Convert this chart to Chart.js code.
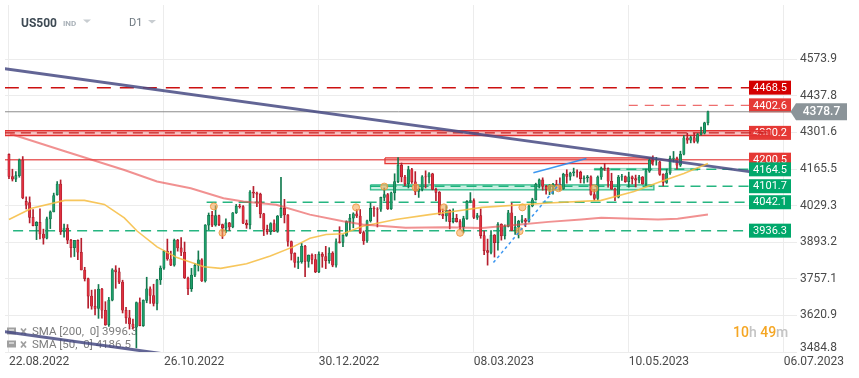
<!DOCTYPE html>
<html>
<head>
<meta charset="utf-8">
<script src="https://cdn.jsdelivr.net/npm/chart.js@4.4.0/dist/chart.umd.min.js"></script>
<style>
  html, body { margin: 0; padding: 0; background: #fff; }
  #wrap { position: relative; width: 859px; height: 378px; }
</style>
</head>
<body>
<div id="wrap"><canvas id="chart" width="859" height="378"></canvas></div>
<script>
// daily candles, 22.08.2022 .. 13.06.2023 (index = bar number)
const opens = [
  4220,4138,4128,4141,4199,4045,4041,3986,3955,3967,
  3924,3908,3980,4006,4070,4110,3932,3946,3901,3873,
  3900,3856,3790,3758,3693,3655,3647,3719,3640,3586,
  3678,3791,3783,3745,3640,3612,3589,3577,3669,3583,
  3677,3720,3695,3666,3753,3797,3859,3831,3808,3901,
  3872,3856,3760,3720,3771,3807,3828,3749,3957,3993,
  3957,3992,3959,3946,3965,3950,4003,4027,4026,3964,
  3958,4080,4076,4072,3999,3941,3933,3963,3934,3991,
  4019,3995,3896,3852,3818,3821,3878,3822,3845,3829,
  3783,3849,3840,3825,3853,3808,3895,3893,3919,3970,
  3983,3999,3991,3929,3898,3973,4019,4017,4016,4060,
  4071,4018,4077,4119,4180,4136,4111,4164,4118,4082,
  4090,4137,4136,4148,4090,4079,3997,3991,4012,3970,
  3982,3970,3951,3981,4045,4048,3986,3992,3918,3862,
  3855,3920,3892,3960,3917,3952,4003,3937,3949,3971,
  3977,3971,4028,4051,4109,4125,4101,4090,4105,4109,
  4108,4092,4146,4138,4151,4155,4154,4130,4133,4137,
  4071,4056,4136,4169,4168,4120,4091,4061,4136,4138,
  4119,4137,4130,4124,4136,4110,4158,4198,4192,4192,
  4146,4116,4151,4205,4206,4180,4221,4282,4273,4283,
  4268,4294,4299,4338
];
const highs = [
  4222,4165,4156,4203,4212,4062,4062,4015,3970,4018,
  3942,3987,4010,4076,4119,4125,3961,3959,3904,3900,
  3902,3908,3800,3760,3715,3717,3736,3722,3672,3688,
  3795,3806,3797,3752,3651,3640,3607,3671,3686,3679,
  3763,3727,3737,3755,3805,3862,3905,3860,3905,3904,
  3911,3894,3764,3796,3814,3861,3832,3959,4002,4008,
  4029,3994,3961,3980,3967,4004,4034,4035,4030,3976,
  4085,4101,4080,4076,4001,3957,3966,3977,3993,4135,
  4053,3996,3898,3854,3838,3889,3882,3846,3850,3848,
  3858,3855,3878,3873,3858,3906,3951,3922,3973,3997,
  4003,4015,4015,3935,3976,4039,4026,4022,4061,4095,
  4075,4080,4148,4208,4188,4142,4176,4168,4156,4095,
  4141,4159,4152,4150,4095,4082,4017,4030,4014,4018,
  3997,3978,3990,4048,4078,4055,4001,4017,3935,3905,
  3937,3922,3966,3962,3958,4012,4039,3990,3975,3993,
  3982,4032,4057,4113,4129,4133,4105,4108,4112,4124,
  4133,4150,4163,4154,4169,4163,4158,4140,4142,4140,
  4090,4140,4173,4186,4170,4150,4095,4142,4146,4140,
  4154,4140,4143,4142,4138,4165,4205,4215,4209,4195,
  4148,4165,4214,4231,4210,4232,4290,4299,4288,4299,
  4298,4322,4340,4381
];
const lows = [
  4130,4121,4119,4135,4055,4017,3965,3954,3903,3906,
  3886,3906,3944,4006,4068,3922,3912,3888,3838,3840,
  3828,3790,3749,3648,3644,3623,3610,3611,3584,3580,
  3675,3722,3739,3630,3591,3570,3570,3500,3582,3580,
  3668,3666,3656,3641,3736,3792,3826,3806,3804,3860,
  3843,3758,3698,3710,3765,3786,3747,3745,3939,3951,
  3953,3955,3907,3929,3937,3947,4000,4020,3962,3945,
  3943,4059,4026,3984,3918,3923,3922,3933,3930,3985,
  3965,3879,3827,3800,3795,3815,3765,3800,3813,3780,
  3780,3800,3795,3815,3802,3800,3890,3877,3915,3937,
  3947,3985,3925,3885,3893,3968,3989,3950,4008,4048,
  4015,4015,4050,4115,4118,4104,4095,4112,4070,4060,
  4084,4095,4113,4088,4048,3995,3981,3971,3943,3965,
  3968,3939,3928,3978,4040,3981,3978,3908,3847,3808,
  3850,3838,3864,3901,3905,3950,3936,3922,3909,3965,
  3951,3968,4025,4050,4095,4087,4072,4070,4072,4102,
  4087,4090,4113,4124,4140,4135,4114,4113,4117,4068,
  4049,4050,4127,4160,4098,4090,4048,4058,4123,4116,
  4098,4110,4099,4114,4109,4105,4153,4180,4180,4142,
  4103,4112,4146,4192,4166,4175,4218,4261,4263,4263,
  4262,4292,4296,4330
];
const closes = [
  4138,4128,4141,4199,4058,4031,3986,3955,3967,3924,
  3908,3980,4006,4067,4110,3932,3946,3901,3873,3900,
  3856,3790,3758,3693,3655,3647,3719,3640,3586,3678,
  3791,3783,3745,3640,3612,3589,3577,3669,3583,3677,
  3720,3695,3666,3753,3797,3859,3831,3808,3901,3872,
  3856,3760,3720,3771,3807,3828,3749,3957,3993,3957,
  3992,3959,3946,3965,3950,4003,4027,4026,3964,3958,
  4080,4076,4072,3999,3941,3933,3963,3934,3991,4019,
  3995,3896,3852,3818,3821,3878,3822,3845,3829,3783,
  3849,3840,3825,3853,3808,3895,3893,3919,3970,3983,
  3999,3991,3929,3898,3973,4019,4017,4016,4060,4071,
  4018,4077,4119,4180,4136,4111,4164,4118,4082,4090,
  4137,4136,4148,4090,4079,3997,3991,4012,3970,3982,
  3970,3951,3981,4045,4048,3986,3992,3918,3862,3855,
  3920,3892,3960,3917,3952,4003,3937,3949,3971,3977,
  3971,4028,4051,4109,4125,4101,4090,4105,4109,4108,
  4092,4146,4138,4151,4155,4154,4130,4133,4137,4071,
  4056,4136,4169,4168,4120,4091,4061,4136,4138,4119,
  4137,4130,4124,4136,4110,4158,4198,4192,4192,4146,
  4116,4151,4205,4206,4180,4221,4282,4273,4283,4268,
  4294,4299,4338,4378.7
];

const xTickIdx = [0, 45, 90, 135, 180, 225];
const xTickLabels = ['22.08.2022', '26.10.2022', '30.12.2022', '08.03.2023', '10.05.2023', '06.07.2023'];
const yTicks = [4573.9, 4437.8, 4301.6, 4165.5, 4029.3, 3893.2, 3757.1, 3620.9, 3484.8];

// moving averages (bar index, value)
const sma200X = [0.3, 16.2, 33.5, 43, 52.8, 62.3, 68.1, 77.6, 87.4, 97, 102.7, 115.2, 126.7, 137.4, 146.9, 156.7, 166.2, 172, 188.5, 194.2, 203];
const sma200Y = [4297, 4232, 4162, 4119, 4094, 4057, 4045, 4033, 3996, 3971, 3959, 3947, 3949, 3946, 3957, 3969, 3978, 3984, 3978, 3981, 3996.3];
const sma50X = [0, 6.6, 16.2, 21.9, 27.7, 33.5, 37.2, 43, 48.8, 56.6, 61.5, 69, 75.9, 82.5, 87.4, 92.1, 97, 102.7, 112.3, 122.1, 131.6, 137.4, 156.7, 172, 181.5, 189.3, 196, 203];
const sma50Y = [3978, 4020, 4049, 4049, 4034, 3984, 3935, 3876, 3836, 3802, 3796, 3813, 3842, 3876, 3908, 3922, 3925, 3953, 3978, 3996, 4012, 4023, 4039, 4049, 4082, 4119, 4149, 4186.5];

// drawn trend lines
const trendX = [-1.2, 215];
const trendY = [4539, 4156];
const channelX = [-1.2, 60];
const channelY = [3560, 3451];
const blueDashX = [140.7, 160];
const blueDashY = [3817.6, 4112.5];
const blueX = [152.3, 167.7];
const blueY = [4152, 4204.7];

// orange touch markers
const markerX = [59.5, 62, 100.8, 109, 118.1, 126.3, 131, 148.3, 149.1, 157.4, 159.6, 170];
const markerY = [4026.6, 3928.2, 4023, 4100.4, 4096.7, 4023, 3928.2, 3934.5, 4023, 4094.1, 4094.1, 4094.1];

// horizontal levels
const levelValues = [4468.5, 4402.6, 4300.2, 4200.5, 4164.5, 4101.7, 4042.1, 3936.3];
const levelStart = [-1.2, 180, -1.2, -1.2, 170, 105, 57.4, 1.2];
const levelEnd = [215, 215, 221, 215, 215, 215, 215, 215];
const lastPrice = 4378.7;

// zones: [x from, x to, low, high]
const zone4300 = [-1.2, 221, 4290, 4308];
const zone4200 = [109.2, 186.6, 4186, 4207];
const zone4100 = [105, 187.3, 4088, 4107];
const zone4164 = [170, 200, 4161, 4168];

const smaLegend = ['SMA [200,  0] 3996.3', 'SMA [50,  0] 4186.5'];

Chart.defaults.font.family = "Roboto, 'Noto Sans', sans-serif";

const up = i => closes[i] >= opens[i];
const pts = (xs, ys) => xs.map((x, i) => ({ x: x, y: ys[i] }));

const GREEN = 'rgba(0,168,107,0.85)';
const levelStyles = [
  { color: '#cc1010', dash: [14, 9], width: 1.5, tag: '#d40000' },
  { color: 'rgba(235,85,85,0.85)', dash: [9, 7], width: 1.3, tag: '#e53935' },
  { color: '#c81e1e', dash: [10, 6], width: 1.2, tag: '#e53935' },
  { color: 'rgba(228,60,60,0.8)', dash: [], width: 1.5, tag: '#e53935' },
  { color: GREEN, dash: [10, 6], width: 1.5, tag: '#00a86b' },
  { color: GREEN, dash: [10, 6], width: 1.5, tag: '#00a86b' },
  { color: GREEN, dash: [10, 6], width: 1.5, tag: '#00a86b' },
  { color: GREEN, dash: [10, 6], width: 1.5, tag: '#00a86b' }
];

function lineSet(data, color, width, dash, order) {
  return {
    type: 'line', data: data, borderColor: color, borderWidth: width,
    borderDash: dash || [], pointRadius: 0, fill: false, tension: 0, order: order
  };
}

function zoneSet(z, stroke, fill, width) {
  return {
    type: 'line',
    data: [{ x: z[0], y: z[3] }, { x: z[1], y: z[3] }, { x: z[1], y: z[2] }, { x: z[0], y: z[2] }, { x: z[0], y: z[3] }],
    borderColor: stroke, backgroundColor: fill, borderWidth: width,
    fill: 'shape', pointRadius: 0, tension: 0, order: 6
  };
}

const datasets = [
  lineSet(pts(sma200X, sma200Y), 'rgba(232,72,72,0.6)', 2, null, 0),
  lineSet(pts(sma50X, sma50Y), 'rgba(246,188,64,0.85)', 1.6, null, 0),
  lineSet(pts(trendX, trendY), 'rgba(70,74,130,0.85)', 3, null, 0),
  lineSet(pts(channelX, channelY), 'rgba(70,74,130,0.85)', 3, null, 0),
  lineSet(pts(blueDashX, blueDashY), 'rgba(40,140,240,0.9)', 1.5, [3, 3], 0),
  lineSet(pts(blueX, blueY), 'rgba(40,140,240,0.9)', 1.5, null, 0),
  {
    type: 'line', showLine: false, data: pts(markerX, markerY), order: 0,
    pointRadius: 3.5, pointBackgroundColor: 'rgba(246,170,90,0.6)',
    pointBorderColor: 'rgba(240,150,60,0.85)', pointBorderWidth: 1
  },
  {
    type: 'bar', order: 2, grouped: false, barThickness: 2.4,
    data: closes.map((c, i) => ({ x: i, y: [opens[i], c] })),
    borderWidth: 0.6, borderSkipped: false,
    backgroundColor: c => up(c.dataIndex) ? '#1f9e6a' : '#e0303f',
    borderColor: c => up(c.dataIndex) ? '#0f6a45' : '#a11a28'
  },
  {
    type: 'bar', order: 3, grouped: false, barThickness: 1,
    data: closes.map((c, i) => ({ x: i, y: [lows[i], highs[i]] })),
    borderWidth: 0,
    backgroundColor: c => up(c.dataIndex) ? '#137a4f' : '#b51f2e'
  },
  lineSet([{ x: -1.2, y: lastPrice }, { x: 227.4, y: lastPrice }], '#8c8c8c', 1, null, 5),
  zoneSet(zone4300, '#e23030', 'rgba(235,80,80,0.32)', 1.5),
  zoneSet(zone4200, '#e53935', 'rgba(240,100,100,0.28)', 1.3),
  zoneSet(zone4100, 'rgba(0,170,110,0.8)', 'rgba(60,200,150,0.28)', 1.3),
  zoneSet(zone4164, 'rgba(0,170,110,0.45)', 'rgba(60,200,150,0.2)', 1)
];

levelValues.forEach((v, k) => {
  const s = levelStyles[k];
  datasets.push(lineSet([{ x: levelStart[k], y: v }, { x: levelEnd[k], y: v }], s.color, s.width, s.dash, 4));
});

const overlay = {
  id: 'overlay',
  beforeDatasetsDraw(chart) {
    const ctx = chart.ctx;
    const y = chart.scales.y;
    ctx.save();
    // level price tags
    ctx.font = '11px Roboto';
    ctx.textAlign = 'center';
    ctx.textBaseline = 'middle';
    levelValues.forEach((v, k) => {
      const py = y.getPixelForValue(v);
      ctx.fillStyle = levelStyles[k].tag;
      ctx.fillRect(749, py - 7, 42, 14);
      ctx.fillStyle = '#fff';
      ctx.fillText(v.toFixed(1), 770, py + 0.5);
    });
    // indicator legend
    ctx.textAlign = 'left';
    smaLegend.forEach((txt, k) => {
      const ly = 331.5 + k * 13;
      ctx.fillStyle = '#a0a0a0';
      ctx.fillRect(7, ly - 4, 9, 7);
      ctx.fillStyle = '#fff';
      ctx.fillRect(9, ly - 2, 5, 1);
      ctx.strokeStyle = '#a0a0a0';
      ctx.lineWidth = 1.8;
      ctx.beginPath();
      ctx.moveTo(21, ly - 3); ctx.lineTo(26, ly + 3);
      ctx.moveTo(26, ly - 3); ctx.lineTo(21, ly + 3);
      ctx.stroke();
      ctx.font = '11.5px Roboto';
      ctx.fillStyle = '#7d7d7d';
      ctx.fillText(txt, 32, ly + 0.5);
    });
    ctx.restore();
  },
  afterDraw(chart) {
    const ctx = chart.ctx;
    const y = chart.scales.y;
    ctx.save();
    ctx.textBaseline = 'middle';
    ctx.textAlign = 'left';
    // header
    ctx.font = 'bold 12px Roboto';
    ctx.fillStyle = '#3e4a54';
    ctx.fillText('US500', 21, 23.5);
    ctx.font = 'bold 8px Roboto';
    ctx.fillStyle = '#a9b1b8';
    ctx.fillText('IND', 63, 23.5);
    ctx.font = '11px Roboto';
    ctx.fillStyle = '#6e7880';
    ctx.fillText('D1', 129, 23.5);
    ctx.fillStyle = '#c8cdd1';
    [[83, 19.5], [148, 20]].forEach(p => {
      ctx.beginPath();
      ctx.moveTo(p[0], p[1]); ctx.lineTo(p[0] + 8, p[1]); ctx.lineTo(p[0] + 4, p[1] + 3.5);
      ctx.closePath(); ctx.fill();
    });
    // bottom axis label kept clear of the date row
    ctx.font = '12px Roboto';
    ctx.fillStyle = '#4a4a4a';
    ctx.fillText('3484.8', 800, 347.7);
    // time left in the candle
    ctx.font = '500 14px Roboto';
    let tx = 733;
    [['10', '#f5a623'], ['h', '#c4c4c4'], [' 49', '#f5a623'], ['m', '#c4c4c4']].forEach(p => {
      ctx.fillStyle = p[1];
      ctx.fillText(p[0], tx, 333.5);
      tx += ctx.measureText(p[0]).width;
    });
    // last price tag
    const py = y.getPixelForValue(lastPrice);
    ctx.fillStyle = '#8b9499';
    ctx.beginPath();
    ctx.moveTo(790.5, py);
    ctx.lineTo(796, py - 8.5);
    ctx.lineTo(847, py - 8.5);
    ctx.lineTo(847, py + 8.5);
    ctx.lineTo(796, py + 8.5);
    ctx.closePath();
    ctx.fill();
    ctx.font = '500 12px Roboto';
    ctx.fillStyle = '#fff';
    ctx.textAlign = 'center';
    ctx.fillText(lastPrice.toFixed(1), 821.5, py + 0.5);
    ctx.restore();
  }
};

new Chart(document.getElementById('chart'), {
  type: 'bar',
  data: { datasets: datasets },
  options: {
    responsive: false,
    animation: false,
    devicePixelRatio: 1,
    layout: { padding: 0 },
    plugins: { legend: { display: false }, tooltip: { enabled: false } },
    scales: {
      x: {
        type: 'linear', min: -1.154, max: 228.86, offset: false,
        grid: { color: '#ececec', offset: false, drawTicks: false },
        border: { display: false },
        ticks: {
          autoSkip: false, maxRotation: 0, align: 'start', padding: 3,
          color: '#4a4a4a', font: { size: 12 },
          callback: (v, k) => xTickLabels[k]
        },
        afterBuildTicks: s => { s.ticks = xTickIdx.map(v => ({ value: v })); },
        afterFit: s => { s.height = 26; s.paddingLeft = 0; s.paddingRight = 0; }
      },
      y: {
        position: 'right', min: 3484.8, max: 4776,
        grid: { color: '#ececec', drawTicks: false },
        border: { display: false },
        ticks: {
          padding: 3, color: '#4a4a4a', font: { size: 12 },
          callback: v => v === 3484.8 ? '' : v.toFixed(1)
        },
        afterBuildTicks: s => { s.ticks = yTicks.map(v => ({ value: v })); },
        afterFit: s => { s.width = 62; s.paddingTop = 0; s.paddingBottom = 0; }
      }
    }
  },
  plugins: [overlay]
});
</script>
</body>
</html>
